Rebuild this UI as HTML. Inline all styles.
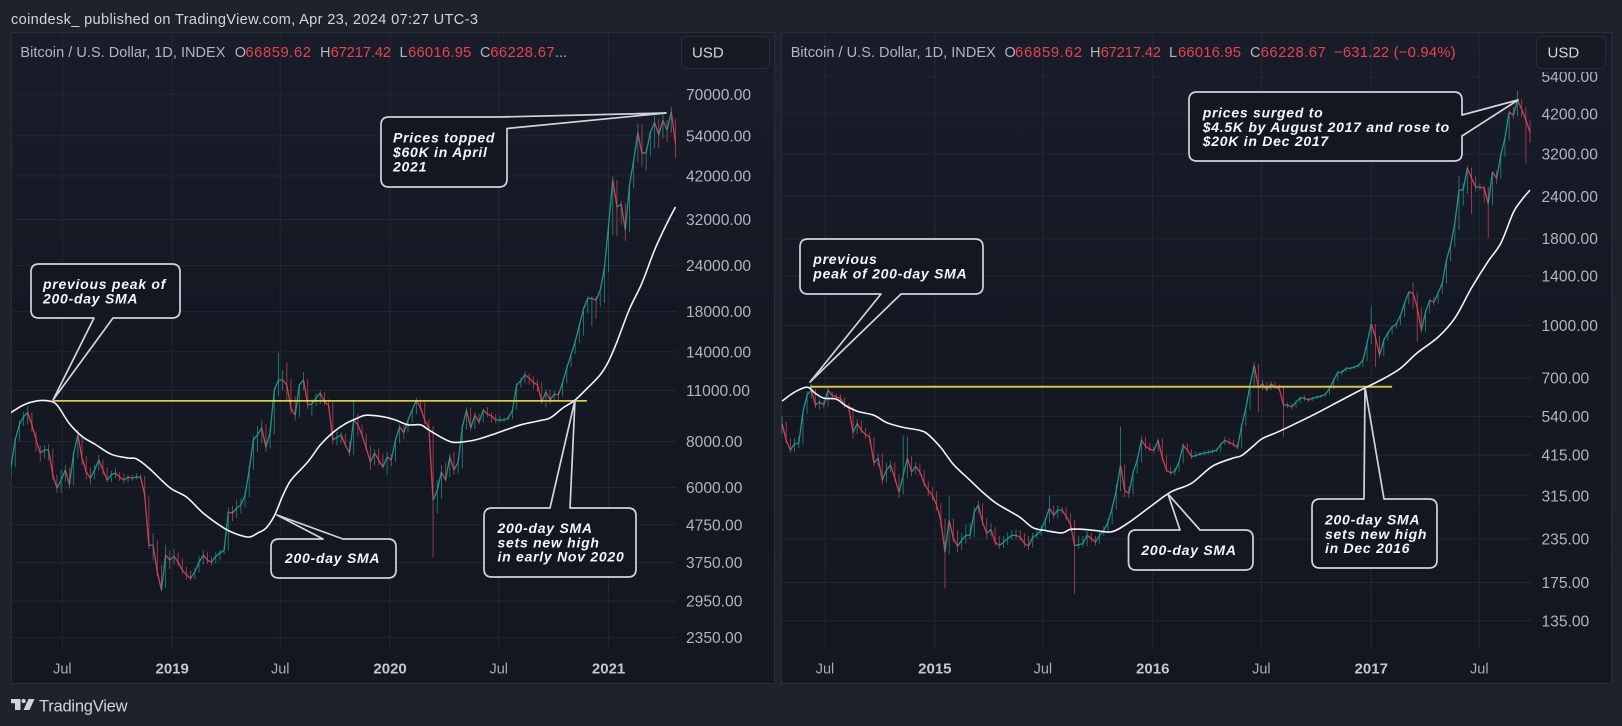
<!DOCTYPE html>
<html lang="en">
<head>
<meta charset="utf-8">
<title>Bitcoin 200-day SMA comparison</title>
<style>
html,body{margin:0;padding:0;background:#1e222d;width:1622px;height:726px;overflow:hidden}
svg{display:block;font-family:"Liberation Sans",sans-serif}
.head{fill:#d1d4dc;font-size:14.6px}
.leg{fill:#b2b5be;font-size:14.5px}
.val{fill:#e5434f;font-size:14.8px}
.usd{fill:#d1d4dc;font-size:15px}
.note{fill:#f4f5f8;font-size:14px;font-weight:700;font-style:italic;letter-spacing:.74px}
.box{fill:#131722;stroke:#d1d4dc;stroke-width:1.7;stroke-linejoin:round}
</style>
</head>
<body>
<svg id="stage" xmlns="http://www.w3.org/2000/svg" width="1622" height="726" viewBox="0 0 1622 726">
  <defs>
    <linearGradient id="panelFill" x1="0" y1="0" x2="0" y2="1">
      <stop offset="0" stop-color="#191d2a"/>
      <stop offset="0.45" stop-color="#141823"/>
      <stop offset="1" stop-color="#131722"/>
    </linearGradient>
    <clipPath id="leftClip"><rect x="11" y="32" width="667" height="618"/></clipPath>
    <clipPath id="rightClip"><rect x="781" y="32" width="751" height="618"/></clipPath>
    <clipPath id="rightAxisClip"><rect x="1532" y="72" width="80" height="578"/></clipPath>
  </defs>

  <rect x="0" y="0" width="1622" height="726" fill="#1e222d"/>
  <text class="head" x="11" y="24" textLength="467">coindesk_ published on TradingView.com, Apr 23, 2024 07:27 UTC-3</text>

  <rect x="11.5" y="32.5" width="763" height="651" fill="url(#panelFill)" stroke="#2a2e39"/>
  <rect x="781.5" y="32.5" width="830" height="651" fill="url(#panelFill)" stroke="#2a2e39"/>

  <g id="leftGrid"></g>
  <g id="rightGrid"></g>
  <g id="leftMarks" clip-path="url(#leftClip)"></g>
  <g id="rightMarks" clip-path="url(#rightClip)"></g>
  <g id="leftAxis"></g>
  <g id="rightAxis"></g>

  <g>
    <text class="leg" x="20.4" y="57" textLength="205">Bitcoin / U.S. Dollar, 1D, INDEX</text>
    <text class="leg" x="234.7" y="57">O</text>
    <text class="val" x="245.4" y="57" textLength="65.6">66859.62</text>
    <text class="leg" x="320" y="57">H</text>
    <text class="val" x="330.6" y="57" textLength="60.4">67217.42</text>
    <text class="leg" x="399.5" y="57">L</text>
    <text class="val" x="408" y="57" textLength="63.4">66016.95</text>
    <text class="leg" x="480" y="57">C</text>
    <text class="val" x="490.3" y="57" textLength="64.3">66228.67</text>
    <text class="leg" x="555" y="57">...</text>
  </g>
  <rect x="681.5" y="36.5" width="88" height="32" rx="5" fill="#161a25" stroke="#2a2e39"/>
  <text class="usd" x="692" y="57.5">USD</text>

  <g>
    <text class="leg" x="790.7" y="57" textLength="205">Bitcoin / U.S. Dollar, 1D, INDEX</text>
    <text class="leg" x="1004.5" y="57">O</text>
    <text class="val" x="1015" y="57" textLength="67">66859.62</text>
    <text class="leg" x="1090" y="57">H</text>
    <text class="val" x="1100.6" y="57" textLength="60.4">67217.42</text>
    <text class="leg" x="1169" y="57">L</text>
    <text class="val" x="1178" y="57" textLength="63">66016.95</text>
    <text class="leg" x="1250" y="57">C</text>
    <text class="val" x="1260.7" y="57" textLength="65">66228.67</text>
    <text class="val" x="1334" y="57" textLength="121.6">−631.22 (−0.94%)</text>
  </g>
  <rect x="1536.5" y="36.5" width="69" height="32" rx="5" fill="#161a25" stroke="#2a2e39"/>
  <text class="usd" x="1547.5" y="57.5">USD</text>

  <g>
    <path class="box" d="M389 117 H500 L666 113 L507 128.5 V179 Q507 187 499 187 H389 Q381 187 381 179 V125 Q381 117 389 117 Z"/>
    <text class="note" x="393" y="142.7">Prices topped</text>
    <text class="note" x="393" y="157">$60K in April</text>
    <text class="note" x="393" y="171.3">2021</text>
  </g>
  <g>
    <path class="box" d="M39 264 H172 Q180 264 180 272 V310 Q180 318 172 318 H113 L53 400 L94 318 H39 Q31 318 31 310 V272 Q31 264 39 264 Z"/>
    <text class="note" x="43" y="289">previous peak of</text>
    <text class="note" x="43" y="303.3">200-day SMA</text>
  </g>
  <g>
    <path class="box" d="M279 539 H323 L277 515 L343 539 H388 Q396 539 396 547 V570 Q396 578 388 578 H279 Q271 578 271 570 V547 Q271 539 279 539 Z"/>
    <text class="note" x="285" y="563">200-day SMA</text>
  </g>
  <g>
    <path class="box" d="M492 508 H550 L575 400 L570 508 H628 Q636 508 636 516 V569 Q636 577 628 577 H492 Q484 577 484 569 V516 Q484 508 492 508 Z"/>
    <text class="note" x="497.5" y="533">200-day SMA</text>
    <text class="note" x="497.5" y="547.3">sets new high</text>
    <text class="note" x="497.5" y="561.7">in early Nov 2020</text>
  </g>
  <g>
    <path class="box" d="M1197 92 H1454 Q1462 92 1462 100 V115 L1518 100 L1462 136 V153 Q1462 161 1454 161 H1197 Q1189 161 1189 153 V100 Q1189 92 1197 92 Z"/>
    <text class="note" x="1202.7" y="117.7">prices surged to</text>
    <text class="note" x="1202.7" y="131.8">$4.5K by August 2017 and rose to</text>
    <text class="note" x="1202.7" y="146">$20K in Dec 2017</text>
  </g>
  <g>
    <path class="box" d="M808 239 H975 Q983 239 983 247 V286 Q983 294 975 294 H901 L810 382 L881 294 H808 Q800 294 800 286 V247 Q800 239 808 239 Z"/>
    <text class="note" x="813.3" y="264">previous</text>
    <text class="note" x="813.3" y="278.3">peak of 200-day SMA</text>
  </g>
  <g>
    <path class="box" d="M1136 530 H1180 L1168 494 L1200 530 H1245 Q1253 530 1253 538 V562 Q1253 570 1245 570 H1136 Q1128.5 570 1128.5 562 V538 Q1128.5 530 1136 530 Z"/>
    <text class="note" x="1141.4" y="555">200-day SMA</text>
  </g>
  <g>
    <path class="box" d="M1320 499 H1364 L1365 387 L1384 499 H1429 Q1437 499 1437 507 V560 Q1437 568 1429 568 H1320 Q1312 568 1312 560 V507 Q1312 499 1320 499 Z"/>
    <text class="note" x="1325" y="524.7">200-day SMA</text>
    <text class="note" x="1325" y="539">sets new high</text>
    <text class="note" x="1325" y="553">in Dec 2016</text>
  </g>

  <g>
    <path fill="#d1d4dc" d="M11 699 H20.5 V710 H15 V703.2 H11 Z M28.5 699 H34.5 L29.5 710 H23.5 Z"/>
    <circle cx="23.6" cy="701" r="2.1" fill="#d1d4dc"/>
    <text x="39" y="711.5" fill="#d1d4dc" font-size="16.5" textLength="88.5">TradingView</text>
  </g>
</svg>

<script>
const SVG_NS = 'http://www.w3.org/2000/svg';

// ---- left chart data (weekly samples) ----
const leftStartDate = '2018-04-06';
const leftCloses = [6810,8070,8870,9330,9580,8870,8070,7440,7580,7580,
6490,5970,6280,6690,6100,7440,8330,7210,6610,6350,
6690,7120,6690,6280,6490,6560,6400,6280,6400,6350,
6400,6400,5710,4180,4180,3540,3160,3930,3810,3900,
3760,3580,3470,3400,3540,3760,3930,3810,3760,3900,
3980,4050,5140,5110,5270,5370,5710,6690,8070,8330,
8700,7710,8460,11030,11740,11740,11380,9850,9420,11380,
11740,10040,10100,10490,10820,10230,10040,8070,8200,8330,
7820,7440,9140,8870,8330,7670,7030,7440,7120,6810,
7260,7120,8070,8760,8450,9140,9730,10360,9850,9140,
8700,5540,5900,6610,6280,7260,6690,7030,8760,9730,
8700,9420,9020,9730,9490,9370,9140,9140,9140,9260,
9730,11380,11680,12130,11880,11560,11380,10230,10890,10360,
10760,10690,11560,12660,13740,14900,16540,18290,19550,19550,
19300,20600,23640,30900,40970,34600,35270,29970,39700,46400,
55000,48300,48700,55200,58700,54400,59500,56000,62800,51500];
const leftHighs = [7100,8200,9150,9600,9950,9600,8500,7800,7800,7850,
7650,6500,6700,6900,6800,7500,8590,8300,7300,6800,
6900,7350,7150,6800,6650,6750,6600,6550,6500,6500,
6550,6500,6450,5700,4500,4300,3700,4190,4050,4080,
4000,3850,3650,3560,3620,3900,4050,4000,3900,4000,
4060,4150,5300,5350,5550,5600,5850,6900,8300,8800,
9100,8900,8700,11200,13900,12500,13100,11800,10600,11450,
12340,11800,10400,10800,11000,10900,10400,10200,8500,8500,
8400,8000,10360,9500,8900,8400,7800,7600,7650,7400,
7500,7400,8150,8900,8850,9200,9800,10500,10400,10200,
9200,8800,6300,6900,7000,7400,7500,7250,8900,9900,
9850,9600,9500,9800,9900,9600,9500,9400,9300,9400,
9800,11500,11900,12400,12200,12000,11750,11600,11100,11050,
10950,10900,11700,12900,13900,15100,16800,18500,19900,19800,
19800,20700,24000,31000,41900,41000,36000,35500,40000,46500,
58300,58200,50000,55500,61200,60000,61500,59500,64800,60000];
const leftLows = [6500,6800,8000,8800,8900,8500,7500,7050,7200,7100,
6300,5800,5800,6200,5950,6050,7200,6900,6300,6100,
6300,6650,6500,6200,6200,6350,6250,6150,6200,6250,
6300,6300,5600,4080,3800,3450,3130,3200,3600,3700,
3650,3500,3370,3350,3380,3520,3700,3720,3680,3720,
3800,3950,4040,4850,4950,5100,5300,5650,6700,7500,
7900,7500,7650,8350,10600,11000,10300,9500,9100,9300,
11000,9800,9400,9950,10100,10000,9800,7850,7800,7900,
7750,7300,7350,8250,8200,7600,6700,6900,6900,6750,
6500,6850,7050,7900,8100,8450,9000,9500,9750,8900,
8500,3880,5100,5600,6200,6400,6500,6550,6750,8600,
8550,8650,8900,9000,9300,9000,8950,9000,9050,9100,
9200,9750,11200,11500,11400,11100,10900,10100,9900,10100,
10250,10350,10600,11500,12700,13800,14800,15500,17800,16400,
17200,18600,19000,23000,29000,28800,31000,28000,29500,39000,
45800,44500,43500,47500,50000,50000,53000,52000,55000,47000];
const leftSmaWeeks = [0,3,6,9,11,14,17,20,24,28,30,33,38,42,46,51,54,57,59,61,63,65,67,71,74,77,80,83,85,89,92,95,98,100,103,106,111,115,119,122,126,129,132,135,138,141,143,145,148,151,154,157,159];
const leftSmaValues = [9580,10040,10290,10300,10040,8930,8250,7870,7380,7210,7170,6770,5990,5650,5110,4650,4480,4400,4510,4650,5020,5680,6280,7030,7820,8450,8930,9260,9420,9330,9140,8870,8870,8590,8200,7950,8070,8330,8640,8870,9080,9260,9850,10360,11180,12130,13200,14900,18290,21530,26450,31300,34600];
const leftPriceTicks = [70000,54000,42000,32000,24000,18000,14000,11000,8000,6000,4750,3750,2950,2350];
const leftTimeTicks = ['2018-07-01','2019-01-01','2019-07-01','2020-01-01','2020-07-01','2021-01-01'];
const leftTimeLabels = ['Jul','2019','Jul','2020','Jul','2021'];
const leftLevel = [10300];
const leftLevelWeeks = [10.2,137.8];

// ---- right chart data ----
const rightStartDate = '2014-04-20';
const rightCloses = [515,459,429,449,449,555,623,645,583,595,
583,645,623,615,611,583,571,484,515,491,
477,468,393,407,350,375,388,355,323,362,
407,370,385,370,343,327,316,296,267,215,
267,236,224,233,241,241,282,296,263,244,
251,230,225,230,236,241,241,238,228,224,
238,242,249,267,290,276,286,286,274,260,
225,226,228,241,236,230,241,249,263,290,
327,388,327,320,368,401,459,441,432,429,
459,407,375,368,372,396,444,429,411,414,
418,421,423,426,429,447,459,452,447,437,
508,571,667,763,655,673,645,673,660,651,
583,583,575,595,611,611,603,611,615,619,
627,651,690,728,728,748,748,754,763,790,
887,1010,924,817,905,950,990,1010,1070,1165,
1255,1245,1130,969,1095,1187,1170,1245,1332,1558,
1725,2000,2504,2504,2908,2715,2555,2555,2540,2280,
2830,2715,3170,3570,4250,4160,4610,4330,4026,3710];
const rightHighs = [540,520,465,465,470,565,640,673,650,610,
600,655,640,630,625,615,590,575,530,525,
500,485,470,420,420,395,400,395,365,475,
470,412,395,392,375,348,335,325,300,270,
313,270,250,245,260,262,292,305,300,270,
262,255,240,240,246,250,252,250,245,240,
245,252,258,272,316,295,296,292,292,280,
268,240,240,248,245,240,246,256,270,296,
340,503,390,335,372,405,470,470,450,440,
465,465,415,385,380,400,450,450,432,425,
425,428,430,432,434,452,470,465,460,450,
512,575,680,780,770,690,680,685,680,670,
660,592,590,600,618,622,612,616,622,625,
632,660,695,735,740,755,755,760,772,800,
895,1135,1010,935,915,960,995,1020,1080,1180,
1265,1340,1250,1130,1110,1195,1215,1255,1345,1570,
1740,2010,2760,2620,2950,2910,2750,2620,2580,2560,
2840,2850,3180,3600,4300,4400,4900,4650,4400,4040];
const rightLows = [480,450,420,425,435,445,550,610,570,565,
570,575,610,600,600,570,560,465,478,482,
465,450,385,385,340,345,370,348,310,318,
355,360,365,362,335,315,305,285,255,168,
212,230,215,218,228,235,238,280,258,235,
240,225,220,222,226,234,236,232,222,218,
222,236,240,248,262,270,270,280,268,252,
162,220,222,224,230,225,228,240,248,260,
288,325,312,310,318,366,395,430,425,420,
425,400,370,362,362,370,392,425,405,408,
412,415,418,420,424,425,445,445,440,432,
435,505,565,660,555,645,640,645,650,640,
470,570,565,572,590,600,595,600,608,612,
618,625,648,685,715,730,738,745,752,755,
785,880,754,800,812,900,940,980,1005,1060,
1155,1120,893,950,960,1085,1145,1160,1240,1330,
1545,1700,1909,2250,2440,2130,2480,2500,2300,1810,
2260,2600,2700,3140,3500,4050,4130,4100,3000,3450];
const rightSmaWeeks = [0,3,6,8,10,13,15,18,22,25,29,33,35,38,41,45,48,51,54,57,60,63,67,69,72,75,79,83,88,93,98,103,108,110,113,115,119,127,133,138,144,148,152,157,161,165,169,172,175,177,179];
const rightSmaValues = [599,636,658,631,611,607,583,559,544,518,501,491,477,437,390,350,323,301,286,272,254,249,245,251,251,249,247,263,292,323,343,385,407,414,444,465,488,544,595,641,698,748,830,924,1050,1290,1547,1745,2150,2340,2504];
const rightPriceTicks = [5400,4200,3200,2400,1800,1400,1000,700,540,415,315,235,175,135];
const rightTimeTicks = ['2014-07-01','2015-01-01','2015-07-01','2016-01-01','2016-07-01','2017-01-01','2017-07-01'];
const rightTimeLabels = ['Jul','2015','Jul','2016','Jul','2017','Jul'];
const rightLevel = [660];
const rightLevelWeeks = [6.7,146];

const UP_COLOR = '#2a9d8f';
const DOWN_COLOR = '#d9485a';
const PX_PER_DAY = 0.597;
const DAY_MS = 86400000;

function makeSvg(tag, parent, attrs) {
  const el = document.createElementNS(SVG_NS, tag);
  for (const k in attrs) el.setAttribute(k, attrs[k]);
  parent.appendChild(el);
  return el;
}

function smoothPath(points) {
  let d = 'M' + points[0][0].toFixed(1) + ' ' + points[0][1].toFixed(1);
  for (let i = 0; i < points.length - 1; i++) {
    const p0 = points[Math.max(i - 1, 0)];
    const p1 = points[i];
    const p2 = points[i + 1];
    const p3 = points[Math.min(i + 2, points.length - 1)];
    const c1x = p1[0] + (p2[0] - p0[0]) / 6;
    const c1y = p1[1] + (p2[1] - p0[1]) / 6;
    const c2x = p2[0] - (p3[0] - p1[0]) / 6;
    const c2y = p2[1] - (p3[1] - p1[1]) / 6;
    d += ' C' + c1x.toFixed(1) + ' ' + c1y.toFixed(1) + ' ' + c2x.toFixed(1) + ' ' + c2y.toFixed(1) + ' ' + p2[0].toFixed(1) + ' ' + p2[1].toFixed(1);
  }
  return d;
}

function drawChart(cfg) {
  const gridG = document.getElementById(cfg.id + 'Grid');
  const marks = document.getElementById(cfg.id + 'Marks');
  const axisG = document.getElementById(cfg.id + 'Axis');
  const start = Date.parse(cfg.start);
  const xFromDate = function (s) { return cfg.x0 + (Date.parse(s) - start) / DAY_MS * PX_PER_DAY; };
  const xFromWeek = function (w) { return cfg.x0 + w * 7 * PX_PER_DAY; };
  const yFromPrice = function (p) { return cfg.yTop + cfg.pxPerLn * Math.log(cfg.pTop / p); };

  cfg.priceTicks.forEach(function (p) {
    const y = yFromPrice(p);
    const line = makeSvg('line', gridG, {x1: cfg.x0 - 1, x2: cfg.gridEnd, y1: y, y2: y, stroke: '#232733', 'stroke-width': 1});
    
    
    const label = makeSvg('text', axisG, {x: cfg.labelX, y: y + 5.5, fill: '#b2b5be', 'font-size': 15.6});
    
    
    if (cfg.axisClip) label.setAttribute('clip-path', cfg.axisClip);
    label.textContent = p.toFixed(2);
  });

  cfg.timeTicks.forEach(function (d, i) {
    const x = xFromDate(d);
    const line = makeSvg('line', gridG, {x1: x, x2: x, y1: 33, y2: 650, stroke: '#232733', 'stroke-width': 1});
    
    
    const isYear = cfg.timeLabels[i] !== 'Jul';
    const label = makeSvg('text', axisG, {x: x, y: 673.5, fill: isYear ? '#c4c7cf' : '#a8abb4', 'font-size': isYear ? 15 : 14.5, 'font-weight': isYear ? 700 : 400, 'text-anchor': 'middle'});
    
    
    label.textContent = cfg.timeLabels[i];
  });

  cfg.closes.forEach(function (close, i) {
    const open = i > 0 ? cfg.closes[i - 1] : close;
    const color = close >= open ? UP_COLOR : DOWN_COLOR;
    const x = xFromWeek(i);
    const xPrev = i > 0 ? xFromWeek(i - 1) : x;
    const g = makeSvg('g', marks, {});
    
    
    makeSvg('line', g, {x1: x, x2: x, y1: yFromPrice(cfg.highs[i]), y2: yFromPrice(cfg.lows[i]), stroke: color, 'stroke-width': 0.9, 'stroke-opacity': 0.75});
    makeSvg('line', g, {x1: xPrev, x2: x, y1: yFromPrice(open), y2: yFromPrice(close), stroke: color, 'stroke-width': 1.3, 'stroke-opacity': 0.9});
  });

  const levelY = yFromPrice(cfg.level[0]);
  const lvl = makeSvg('line', marks, {x1: xFromWeek(cfg.levelWeeks[0]), x2: xFromWeek(cfg.levelWeeks[1]), y1: levelY, y2: levelY, stroke: cfg.levelColor, 'stroke-width': cfg.levelWidth});
  
  

  const pts = cfg.smaWeeks.map(function (w, i) {
    return [xFromWeek(w), yFromPrice(cfg.smaValues[i])];
  });
  const sma = makeSvg('path', marks, {d: smoothPath(pts), fill: 'none', stroke: '#f2f3f5', 'stroke-width': 1.6, 'stroke-linejoin': 'round'});
  
  
}

drawChart({
  id: 'left', start: leftStartDate, x0: 11, gridEnd: 676, labelX: 686,
  yTop: 94.3, pTop: 70000, pxPerLn: 160,
  closes: leftCloses, highs: leftHighs, lows: leftLows,
  smaWeeks: leftSmaWeeks, smaValues: leftSmaValues,
  priceTicks: leftPriceTicks, timeTicks: leftTimeTicks, timeLabels: leftTimeLabels,
  level: leftLevel, levelWeeks: leftLevelWeeks, levelColor: '#f3e94c', levelWidth: 1.5
});
drawChart({
  id: 'right', start: rightStartDate, x0: 782, gridEnd: 1532, labelX: 1541.5,
  yTop: 76.7, pTop: 5400, pxPerLn: 147.5, axisClip: 'url(#rightAxisClip)',
  closes: rightCloses, highs: rightHighs, lows: rightLows,
  smaWeeks: rightSmaWeeks, smaValues: rightSmaValues,
  priceTicks: rightPriceTicks, timeTicks: rightTimeTicks, timeLabels: rightTimeLabels,
  level: rightLevel, levelWeeks: rightLevelWeeks, levelColor: '#d8bf4f', levelWidth: 2
});
</script>
</body>
</html>
